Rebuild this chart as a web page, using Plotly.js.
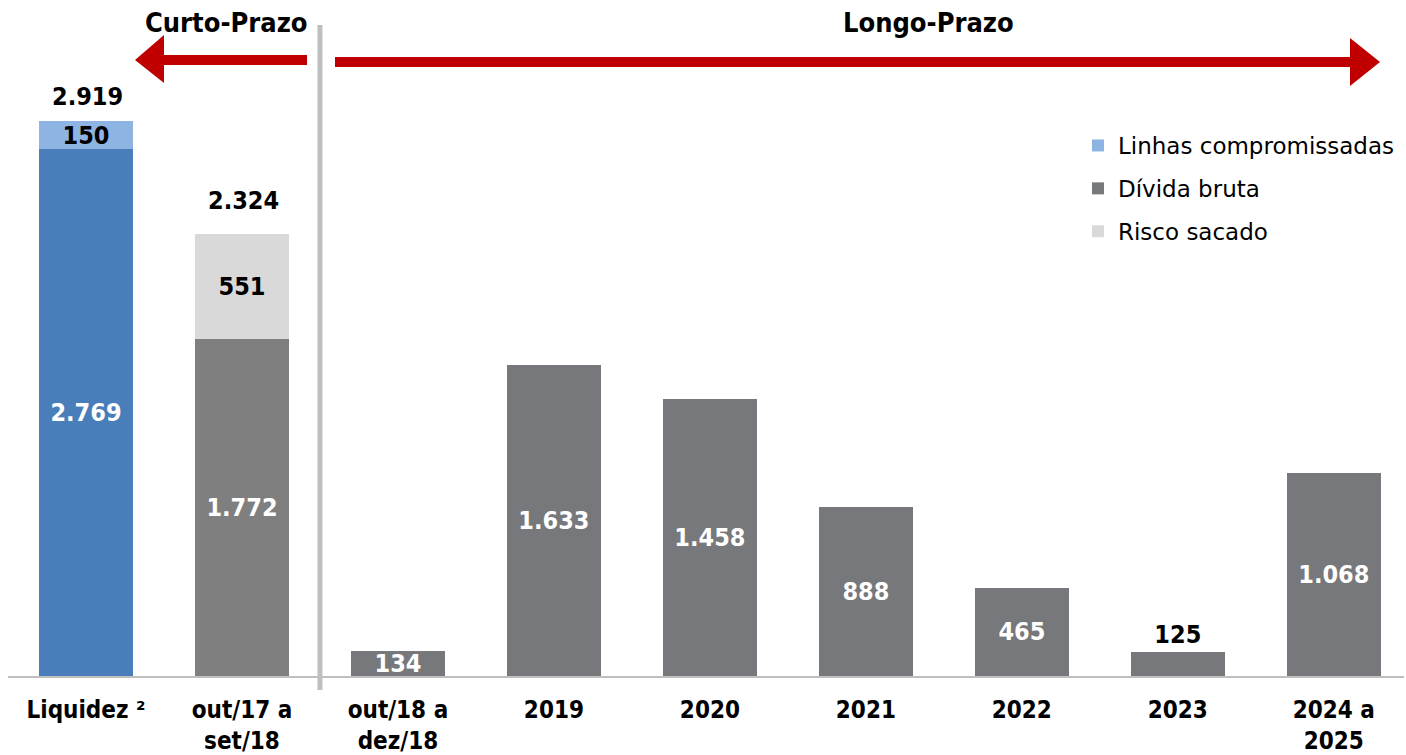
<!DOCTYPE html>
<html>
<head>
<meta charset="utf-8">
<script src="https://cdn.plot.ly/plotly-3.0.1.min.js"></script>
<style>html,body{margin:0;padding:0;background:#fff;}#chart{width:1406px;height:755px;}</style>
</head>
<body>
<div id="chart"></div>
<script>
// ---- data ----
const categories = ["Liquidez ²", "out/17 a<br>set/18", "out/18 a<br>dez/18", "2019", "2020", "2021", "2022", "2023", "2024 a<br>2025"];
const liquidezCaixa = [2769, null, null, null, null, null, null, null, null];
const linhasCompromissadas = [150, null, null, null, null, null, null, null, null];
const dividaBruta = [null, 1772, 134, 1633, 1458, 888, 465, 125, 1068];
const riscoSacado = [null, 551, null, null, null, null, null, null, null];
const totalCategories = ["Liquidez ²", "out/17 a<br>set/18"];
const totalValues = [2919, 2324];
const sectionLabels = ["Curto-Prazo", "Longo-Prazo"];

// ---- helpers ----
const W = 1406, H = 755, ML = 8, MR = 2, MT = 0, MB = 79;
const PW = W - ML - MR, PH = H - MT - MB;
const px = x => (x - ML) / PW;
const py = y => (H - MB - y) / PH;

const FONT = "'DejaVu Sans Condensed', 'DejaVu Sans', sans-serif";

const darkGrey = '#77787b';
const divColors = dividaBruta.map((v, i) => i === 1 ? '#7f7f7f' : darkGrey);
const divTextPos = dividaBruta.map(v => (v !== null && v < 130) ? 'outside' : 'inside');
const divTextColor = dividaBruta.map(v => (v !== null && v < 130) ? '#000000' : '#ffffff');

const VS = 25;
const common = {
  type: 'bar', x: categories, width: 0.6,
  texttemplate: '%{y:,}', constraintext: 'none', cliponaxis: false,
  insidetextanchor: 'middle', hoverinfo: 'skip',
  marker: {line: {width: 0}}
};

const traces = [
  Object.assign({}, common, {
    name: 'Liquidez', y: liquidezCaixa, showlegend: false, legendgroup: 'a',
    marker: {color: '#4a7ebb'}, textposition: 'inside',
    textfont: {family: FONT, size: VS, color: '#ffffff', weight: 'bold'}
  }),
  Object.assign({}, common, {
    name: 'Linhas compromissadas', y: linhasCompromissadas, legendgroup: 'b',
    marker: {color: '#8eb4e3'}, textposition: 'inside',
    textfont: {family: FONT, size: VS, color: '#000000', weight: 'bold'}
  }),
  Object.assign({}, common, {
    name: 'Dívida bruta', y: dividaBruta, legendgroup: 'c',
    marker: {color: divColors}, textposition: divTextPos,
    textfont: {family: FONT, size: VS, color: divTextColor, weight: 'bold'}
  }),
  Object.assign({}, common, {
    name: 'Risco sacado', y: riscoSacado, legendgroup: 'd',
    marker: {color: '#d9d9d9'}, textposition: 'inside',
    textfont: {family: FONT, size: VS, color: '#000000', weight: 'bold'}
  })
];

// totals on stacked bars
const annotations = [];
const totalShift = [8, 17];
totalCategories.forEach((c, k) => {
  annotations.push({
    x: c, y: totalValues[k], xref: 'x', yref: 'y',
    text: totalValues[k].toLocaleString('pt-BR'), showarrow: false,
    xanchor: 'center', yanchor: 'bottom', yshift: totalShift[k], xshift: 2,
    font: {family: FONT, size: VS, color: '#000', weight: 'bold'}
  });
});
annotations.push({
  x: px(226), y: py(22), xref: 'paper', yref: 'paper', text: sectionLabels[0], showarrow: false,
  xanchor: 'center', yanchor: 'middle',
  font: {family: FONT, size: 27, color: '#000', weight: 'bold'}
});
annotations.push({
  x: px(928), y: py(22), xref: 'paper', yref: 'paper', text: sectionLabels[1], showarrow: false,
  xanchor: 'center', yanchor: 'middle',
  font: {family: FONT, size: 27, color: '#000', weight: 'bold'}
});

const red = '#c00000';
const shapes = [
  {type: 'line', xref: 'x', yref: 'paper', x0: 1.5, x1: 1.5, y0: py(690), y1: py(25),
   line: {color: '#bfbfbf', width: 5}},
  {type: 'rect', xref: 'paper', yref: 'paper', x0: px(160), x1: px(307), y0: py(65), y1: py(55),
   fillcolor: red, line: {width: 0}},
  {type: 'path', xref: 'paper', yref: 'paper',
   path: `M ${px(135)} ${py(60)} L ${px(164)} ${py(35)} L ${px(164)} ${py(83)} Z`,
   fillcolor: red, line: {width: 0}},
  {type: 'rect', xref: 'paper', yref: 'paper', x0: px(335), x1: px(1354), y0: py(67), y1: py(57),
   fillcolor: red, line: {width: 0}},
  {type: 'path', xref: 'paper', yref: 'paper',
   path: `M ${px(1380)} ${py(62)} L ${px(1350)} ${py(38)} L ${px(1350)} ${py(86)} Z`,
   fillcolor: red, line: {width: 0}}
];

const layout = {
  width: W, height: H,
  margin: {l: ML, r: MR, t: MT, b: MB, pad: 0},
  paper_bgcolor: '#ffffff', plot_bgcolor: '#ffffff',
  barmode: 'stack', separators: ',.',
  showlegend: true,
  legend: {
    x: px(1078), y: py(124), xanchor: 'left', yanchor: 'top',
    traceorder: 'grouped', tracegroupgap: 10,
    font: {family: "'DejaVu Sans', sans-serif", size: 23, color: '#000'},
    bgcolor: 'rgba(0,0,0,0)', itemwidth: 30
  },
  xaxis: {
    type: 'category', range: [-0.5, 8.45], showgrid: false, zeroline: false,
    showline: true, linecolor: '#bfbfbf', linewidth: 2, ticks: '',
    ticklabelstandoff: 11,
    tickfont: {family: FONT, size: 24, color: '#000', weight: 'bold'},
    fixedrange: true
  },
  yaxis: {
    range: [0, PH / 0.1902], visible: false, showgrid: false, zeroline: false, fixedrange: true
  },
  annotations: annotations,
  shapes: shapes
};

Plotly.newPlot('chart', traces, layout, {displayModeBar: false, staticPlot: true});
</script>
</body>
</html>
